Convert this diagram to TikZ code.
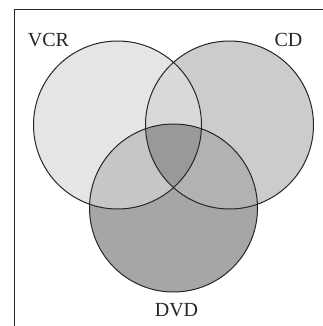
\documentclass[tikz,border=0pt]{standalone}
\usepackage{fontspec}
\setmainfont{Liberation Serif}
\begin{document}
\begin{tikzpicture}[x=1pt,y=1pt,
  ring/.style={draw=black!85,line width=1pt},
  lbl/.style={font=\fontsize{20}{22}\selectfont,text=black!85,inner sep=0pt}]
\useasboundingbox (0,0) rectangle (323,326);
\fill[white] (0,0) rectangle (323,326);
\def\rr{84}
\coordinate (v) at (117.5,201);
\coordinate (c) at (229.5,201);
\coordinate (d) at (173.5,118);
% single regions
\fill[gray!20!white] (v) circle (\rr);
\fill[gray!40!white] (c) circle (\rr);
\fill[gray!70!white] (d) circle (\rr);
% pairwise
\begin{scope}
  \clip (v) circle (\rr);
  \fill[gray!30!white] (c) circle (\rr);
  \fill[gray!45!white] (d) circle (\rr);
\end{scope}
\begin{scope}
  \clip (c) circle (\rr);
  \fill[gray!60!white] (d) circle (\rr);
  \clip (v) circle (\rr);
  \fill[gray!80!white] (d) circle (\rr);
\end{scope}
% outlines
\draw[ring] (v) circle (\rr);
\draw[ring] (c) circle (\rr);
\draw[ring] (d) circle (\rr);
% frame
\coordinate (f1) at (14,0);
\coordinate (f2) at (14,316);
\coordinate (f3) at (323,316);
\draw[black!85,line width=1pt] (f1) -- (f2) -- (f3);
% labels
\node[lbl] (lv) at (48.5,286) {VCR};
\node[lbl] (lc) at (288.5,286) {CD};
\node[lbl] (ld) at (176.5,16) {DVD};
\end{tikzpicture}
\end{document}
